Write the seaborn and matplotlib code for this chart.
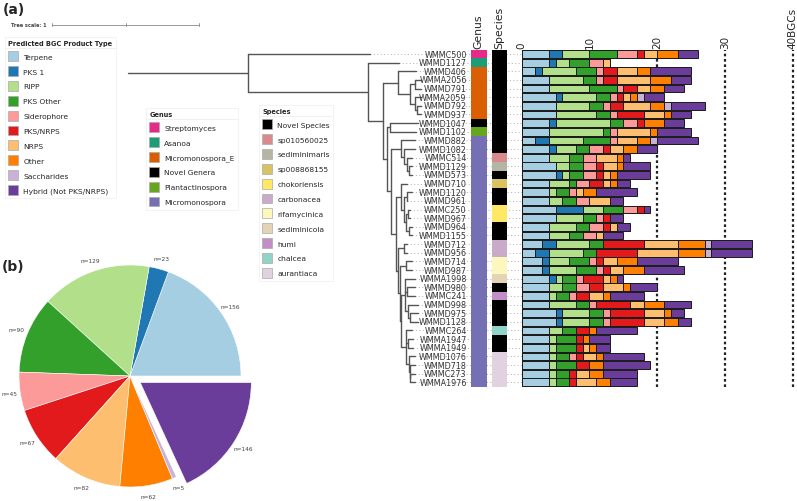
import matplotlib
matplotlib.use("Agg")
import numpy as np
import pandas as pd
import matplotlib.pyplot as plt
import seaborn as sns
from matplotlib.colors import ListedColormap
from matplotlib.patches import Patch
from matplotlib.lines import Line2D

# ---- data -------------------------------------------------------------
strains = ["WMMC500", "WMMD1127", "WMMD406", "WMMA2056", "WMMD791", "WMMA2059",
           "WMMD792", "WMMD937", "WMMD1047", "WMMD1102", "WMMD882", "WMMD1082",
           "WMMC514", "WMMD1129", "WMMD573", "WMMD710", "WMMD1120", "WMMD961",
           "WMMC250", "WMMD967", "WMMD964", "WMMD1155", "WMMD712", "WMMD956",
           "WMMD714", "WMMD987", "WMMA1998", "WMMD980", "WMMC241", "WMMD998",
           "WMMD975", "WMMD1128", "WMMC264", "WMMA1947", "WMMA1949", "WMMD1076",
           "WMMD718", "WMMC273", "WMMA1976"]

genus = (["Streptomyces", "Asanoa"] + ["Micromonospora_E"] * 6
         + ["Novel Genera", "Plantactinospora"] + ["Micromonospora"] * 29)

species = (["Novel Species"] * 12
           + ["sp010560025", "sediminimaris", "Novel Species", "sp008868155",
              "Novel Species", "Novel Species", "chokoriensis", "chokoriensis",
              "Novel Species", "Novel Species", "carbonacea", "carbonacea",
              "rifamycinica", "rifamycinica", "sediminicola", "Novel Species",
              "humi", "Novel Species", "Novel Species", "Novel Species",
              "chalcea", "Novel Species", "Novel Species"]
           + ["aurantiaca"] * 4)

# BGC counts per strain (same order as strains)
terpene = [4, 4, 2, 4, 4, 5, 5, 5, 4, 4, 2, 4, 4, 5, 5, 4, 4, 4, 5, 5, 4, 4, 3, 2, 3, 3,
           4, 4, 4, 4, 5, 5, 4, 4, 4, 4, 4, 4, 4]
pks1 = [2, 1, 1, 0, 0, 1, 0, 0, 1, 0, 2, 1, 0, 0, 1, 0, 0, 0, 4, 0, 0, 0, 2, 2, 1, 1,
        1, 0, 0, 0, 1, 1, 0, 0, 0, 0, 0, 0, 0]
ripp = [4, 2, 5, 5, 6, 5, 5, 6, 8, 8, 5, 3, 3, 2, 1, 3, 1, 2, 3, 4, 4, 3, 5, 5, 3, 4,
        1, 2, 1, 4, 4, 4, 2, 1, 1, 1, 1, 1, 1]
pks_other = [4, 3, 3, 2, 4, 2, 2, 2, 2, 1, 4, 2, 2, 2, 2, 1, 2, 2, 3, 2, 2, 2, 2, 2, 3, 3,
             2, 2, 2, 2, 2, 2, 2, 3, 3, 2, 3, 2, 2]
siderophore = [3, 2, 1, 1, 1, 1, 1, 1, 2, 1, 1, 2, 2, 2, 2, 2, 1, 2, 2, 1, 2, 2, 0, 0, 1, 1,
               1, 2, 1, 1, 1, 1, 0, 0, 0, 1, 0, 0, 0]
pks_nrps = [1, 0, 2, 2, 2, 1, 2, 4, 1, 0, 0, 1, 0, 1, 1, 2, 0, 0, 1, 1, 1, 0, 6, 6, 1, 1,
            3, 2, 2, 5, 5, 5, 2, 1, 1, 1, 2, 1, 1]
nrps = [2, 1, 3, 5, 2, 1, 4, 3, 0, 5, 3, 2, 3, 2, 1, 1, 1, 3, 0, 0, 1, 1, 5, 6, 2, 2,
        1, 3, 2, 2, 3, 3, 0, 0, 1, 2, 0, 2, 3]
other = [3, 0, 2, 3, 2, 1, 2, 1, 3, 1, 2, 2, 1, 1, 1, 1, 2, 0, 0, 0, 0, 0, 4, 4, 3, 3,
         1, 1, 1, 3, 1, 2, 1, 1, 1, 1, 2, 2, 2]
saccharides = [0, 0, 0, 0, 0, 1, 1, 0, 0, 0, 1, 0, 0, 0, 0, 0, 0, 0, 0, 0, 0, 0, 1, 1, 0, 0,
               0, 0, 0, 0, 0, 0, 0, 0, 0, 0, 0, 0, 0]
hybrid = [3, 0, 6, 3, 3, 3, 5, 3, 3, 5, 6, 3, 1, 4, 5, 2, 6, 2, 1, 2, 2, 3, 6, 6, 6, 6,
          1, 4, 5, 4, 2, 2, 6, 3, 2, 6, 7, 5, 4]

bgc_types = ["Terpene", "PKS 1", "RIPP", "PKS Other", "Siderophore", "PKS/NRPS",
             "NRPS", "Other", "Saccharides", "Hybrid (Not PKS/NRPS)"]
pie_counts = [156, 23, 129, 90, 45, 67, 82, 62, 5, 146]

genus_names = ["Streptomyces", "Asanoa", "Micromonospora_E", "Novel Genera",
               "Plantactinospora", "Micromonospora"]
genus_colors = ["#e7298a", "#1b9e77", "#d95f02", "#000000", "#66a61e", "#7570b3"]
species_names = ["Novel Species", "sp010560025", "sediminimaris", "sp008868155",
                 "chokoriensis", "carbonacea", "rifamycinica", "sediminicola",
                 "humi", "chalcea", "aurantiaca"]
species_colors = ["#000000", "#d98a8c", "#b5b5a6", "#d8c262", "#ffe863", "#c9aac8",
                  "#fbf7bd", "#e2d4b4", "#c38ec8", "#8fd4c7", "#e0d3df"]

# tree: (depth, name) for tips, (depth, [children]) for clades; depth in tree units
tree = (0.816, [
    (1.646, "WMMC500"),
    (1.633, [
        (1.844, "WMMD1127"),
        (1.735, [
            (1.84, [(1.96, "WMMD406"),
                    (1.92, [(1.95, [(1.99, "WMMA2056"), (1.99, "WMMD791")]),
                            (1.95, [(1.99, "WMMA2059"),
                                    (1.965, [(1.99, "WMMD792"), (1.99, "WMMD937")])])])]),
            (1.76, [
                (1.78, [(1.97, "WMMD1047"), (1.96, "WMMD1102")]),
                (1.79, [
                    (1.86, [(1.95, "WMMD882"),
                            (1.88, [(1.95, "WMMD1082"),
                                    (1.90, [(1.93, "WMMC514"),
                                            (1.91, [(1.93, "WMMD1129"), (1.93, "WMMD573")])])])]),
                    (1.82, [
                        (1.86, [(1.90, "WMMD710"),
                                (1.88, [(1.90, [(1.93, "WMMD1120"), (1.90, "WMMD961")]),
                                        (1.89, [(1.905, [(1.92, "WMMC250"), (1.92, "WMMD967")]),
                                                (1.91, [(1.93, "WMMD964"), (1.93, "WMMD1155")])])])]),
                        (1.84, [
                            (1.88, [(1.90, "WMMD712"), (1.90, "WMMD956")]),
                            (1.85, [
                                (1.89, [(1.93, "WMMD714"), (1.93, "WMMD987")]),
                                (1.86, [
                                    (1.885, [(1.95, "WMMA1998"),
                                             (1.90, [(1.95, "WMMD980"), (1.95, "WMMC241")]),
                                             (1.905, [(1.97, "WMMD998"),
                                                      (1.915, [(1.97, "WMMD975"), (1.97, "WMMD1128")])])]),
                                    (1.89, [(1.93, "WMMC264"),
                                            (1.905, [(1.94, "WMMA1947"), (1.94, "WMMA1949")]),
                                            (1.91, [(1.95, "WMMD1076"),
                                                    (1.915, [(1.95, "WMMD718"),
                                                             (1.92, [(1.95, "WMMC273"), (1.95, "WMMA1976")])])])]),
                                ]),
                            ]),
                        ]),
                    ]),
                ]),
            ]),
        ]),
    ]),
])

# ---- layout constants (pixels) -----------------------------------------
W, H = 797, 502
ROW0, STEP = 55.0, 8.64          # y of first row, row pitch
ROOT_PX, UNIT_PX = 128.0, 147.0  # tree root x and px per tree unit
BAR_PX, BAR_UNIT = 521.7, 6.775  # bar zero and px per BGC
row_top = ROW0 - STEP / 2
row_bot = ROW0 + STEP * (len(strains) - 0.5)


def fig_rect(x0, x1):
    return [x0 / W, 1 - row_bot / H, (x1 - x0) / W, (row_bot - row_top) / H]


def u(px):
    return (px - ROOT_PX) / UNIT_PX


sns.set_style("white")
plt.rcParams["font.family"] = ["DejaVu Sans"]
pal = sns.color_palette("Paired", 10)

fig = plt.figure(figsize=(W / 100, H / 100), dpi=100)

# ---- tree ----------------------------------------------------------------
ax_t = fig.add_axes([0, 0, 1, 1], zorder=0)
ax_t.set_xlim(u(0), u(W))
ax_t.set_ylim((H - ROW0) / STEP, -ROW0 / STEP)
ax_t.axis("off")
TREE_C = "#555555"


def draw_clade(node, parent_x):
    x, kids = node
    if isinstance(kids, str):
        y = strains.index(kids)
        ax_t.plot([x, u(BAR_PX)], [y, y], color="#b0b0b0", lw=0.7,
                  ls=(0, (1, 2.5)), zorder=1)
        ax_t.text(u(466.7), y, kids, ha="right", va="center", fontsize=5.8,
                  color="#333333", zorder=3)
    else:
        ys = [draw_clade(k, x) for k in kids]
        y = (ys[0] + ys[-1]) / 2
        ax_t.plot([x, x], [ys[0], ys[-1]], color=TREE_C, lw=1, zorder=2)
    ax_t.plot([parent_x, x], [y, y], color=TREE_C, lw=1, zorder=2)
    return y


draw_clade(tree, 0.0)

# tree scale bar
sy = (25.7 - ROW0) / STEP
ax_t.plot([u(52.3), u(52.3) + 1], [sy, sy], color="#888888", lw=0.6)
for tx in [u(52.3), u(52.3) + 0.5, u(52.3) + 1]:
    ax_t.plot([tx, tx], [sy - 0.2, sy + 0.2], color="#888888", lw=0.6)
ax_t.text(u(11.5), sy, "Tree scale: 1", fontsize=3.6, color="#444444",
          fontweight="bold", va="center", ha="left")

# ---- genus / species strips ---------------------------------------------
for names, cols, values, x0, x1, title in [
        (genus_names, genus_colors, genus, 470.7, 486.7, "Genus"),
        (species_names, species_colors, species, 492.0, 506.7, "Species")]:
    ax_s = fig.add_axes(fig_rect(x0, x1), zorder=2)
    codes = pd.DataFrame({title: [names.index(v) for v in values]}, index=strains)
    sns.heatmap(codes, ax=ax_s, cmap=ListedColormap(cols), vmin=-0.5,
                vmax=len(names) - 0.5, cbar=False, yticklabels=False)
    ax_s.xaxis.tick_top()
    ax_s.tick_params(axis="x", length=0, pad=1, labelsize=7.8, labelrotation=90)
    ax_s.set_ylabel("")

# ---- stacked BGC bars ------------------------------------------------------
counts = pd.DataFrame({"Terpene": terpene, "PKS 1": pks1, "RIPP": ripp,
                       "PKS Other": pks_other, "Siderophore": siderophore,
                       "PKS/NRPS": pks_nrps, "NRPS": nrps, "Other": other,
                       "Saccharides": saccharides,
                       "Hybrid (Not PKS/NRPS)": hybrid})
cum = counts[bgc_types].cumsum(axis=1)
cum["strain"] = strains

ax_b = fig.add_axes(fig_rect(BAR_PX, W), zorder=2)
ax_b.patch.set_alpha(0)
for v in [20, 30, 40]:
    ax_b.axvline(v, color="#222222", lw=1.6, ls=(0, (1.2, 1.2)), zorder=0)
for k in range(len(bgc_types) - 1, -1, -1):
    sns.barplot(data=cum, x=bgc_types[k], y="strain", orient="h", order=strains,
                color=pal[k], saturation=1, width=0.9, errorbar=None,
                edgecolor="#1a1a1a", linewidth=0.7, ax=ax_b)
ax_b.set_xlim(0, (W - BAR_PX) / BAR_UNIT)
ax_b.set_ylim(len(strains) - 0.5, -0.5)
ax_b.set_xlabel("")
ax_b.set_ylabel("")
ax_b.set_yticks([])
ax_b.set_xticks([0, 10, 20, 30, 40])
ax_b.set_xticklabels(["0", "10", "20", "30", "40BGCs"])
ax_b.xaxis.tick_top()
ax_b.tick_params(axis="x", length=0, pad=1, labelsize=7.5, labelrotation=90)
sns.despine(ax=ax_b, left=True, bottom=True, top=True, right=True)

# ---- pie -------------------------------------------------------------------
ax_p = fig.add_axes([-8.75 / W, -13.75 / H, 277.5 / W, 277.5 / H], zorder=1)
explode = [0] * 9 + [0.11]
wedges, texts = ax_p.pie(pie_counts, colors=pal, explode=explode, startangle=0,
                         labels=[f"n={v}" for v in pie_counts], labeldistance=1.1,
                         textprops={"fontsize": 4.2, "color": "#444444"},
                         wedgeprops={"linewidth": 0.4, "edgecolor": "white"})
for t in texts:
    t.set_ha("center")
ax_p.set_xlim(-1.25, 1.25)
ax_p.set_ylim(-1.25, 1.25)
ax_p.set_aspect("equal")

# ---- legends ----------------------------------------------------------------
legs = []
for names, cols, title, (lx, ly) in [
        (bgc_types, pal, "Predicted BGC Product Type", (5, 38)),
        (genus_names, genus_colors, "Genus", (146, 109)),
        (species_names, species_colors, "Species", (259, 106))]:
    handles = [Patch(facecolor=c, edgecolor="#aaaaaa", linewidth=0.5, label=n)
               for n, c in zip(names, cols)]
    leg = fig.legend(handles=handles, title=title, loc="upper left",
                     bbox_to_anchor=(lx / W, 1 - ly / H), borderaxespad=0,
                     fontsize=5.4, title_fontproperties={"weight": "bold", "size": 4.8},
                     alignment="left", frameon=True, fancybox=False,
                     edgecolor="#eeeeee", handlelength=1.33, handleheight=1.67,
                     labelspacing=0.65, handletextpad=0.65, borderpad=0.45)
    leg.get_frame().set_linewidth(0.6)
    legs.append(leg)

fig.canvas.draw()
for leg in legs:
    tb = leg.get_title().get_window_extent()
    fb = leg.get_frame().get_window_extent()
    y = tb.y0 - 1.5
    fig.add_artist(Line2D([(fb.x0 + 1) / W, (fb.x1 - 1) / W], [y / H, y / H],
                          transform=fig.transFigure, color="#aaaaaa", lw=0.6))

fig.text(3 / W, 1 - 10 / H, "(a)", fontsize=10, fontweight="bold", va="center")
fig.text(2 / W, 1 - 267 / H, "(b)", fontsize=10, fontweight="bold", va="center")

fig.savefig("out.png", dpi=100)
